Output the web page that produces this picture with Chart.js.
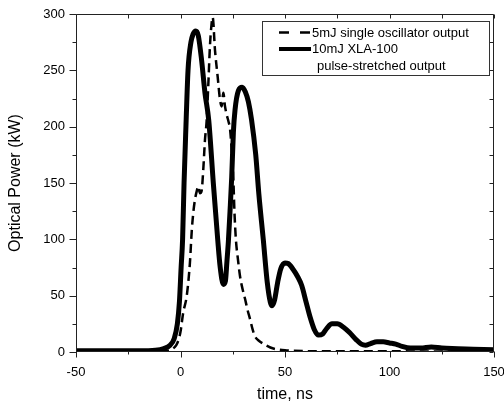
<!DOCTYPE html>
<html>
<head>
<meta charset="utf-8">
<script src="https://cdn.jsdelivr.net/npm/chart.js@4.4.0/dist/chart.umd.min.js"></script>
<style>
    html, body { margin: 0; padding: 0; background: #fff; }
    #grafico { display: block; }
</style>
</head>
<body>
<canvas id="grafico" width="504" height="405"></canvas>
<script>
// 5mJ single oscillator output (dashed)
const oscTime = [-50, -40, -30, -20, -10, -5, -3, -1.5, 0, 1.3, 3, 4.5, 5.4, 6.2, 6.9, 7.8, 8.5, 9.3, 10.1, 10.9, 11.7, 12.5, 13.3, 14.1, 14.8, 15.4, 16.5, 17.8, 18.9, 19.7, 20.5, 21.3, 22.2, 22.9, 23.7, 24.5, 25.3, 25.8, 26.5, 27.5, 28.5, 29.8, 30.9, 32, 33.3, 34.5, 35.6, 37.5, 40.4, 43, 45.2, 50, 60, 80, 100, 120, 150];
const oscPower = [0.5, 0.5, 0.5, 0.5, 0.8, 1.5, 4, 8, 18, 35, 50, 79, 108, 125, 135, 143, 147, 141, 143, 162, 188, 205, 237, 272, 290, 297, 268, 244, 224, 218, 230, 218, 210, 205, 198, 179, 153, 125, 100, 82, 67, 55, 47, 38, 29, 20, 14, 10, 6.5, 4, 2.7, 1.5, 0.8, 0.6, 0.6, 0.5, 0.5];

// 10mJ XLA-100 pulse-stretched output (solid)
const xlaTime = [-50, -40, -30, -20, -12, -8, -5, -3, -1.5, -0.5, 0.3, 1, 1.7, 2.6, 3.6, 5, 6, 7.3, 8.5, 10.1, 11.7, 13.5, 15.7, 17.8, 19, 20.5, 21.5, 22.2, 22.9, 23.7, 24.5, 25.3, 26.1, 27.7, 29.5, 31, 32.5, 34, 36, 37.5, 39.6, 41.5, 43, 43.8, 45, 46.5, 48, 50, 51.5, 54, 56, 58, 60, 62, 64, 66, 68, 70, 72.5, 75, 78, 81, 84, 86.5, 88.5, 91, 94, 97, 100, 103, 106, 110, 115, 120, 125, 130, 140, 150];
const xlaPower = [1, 1, 1, 1, 1.5, 3, 6, 12, 25, 45, 75, 100, 150, 200, 250, 275, 282, 285, 281, 259, 230, 206, 150, 100, 75, 60, 63, 80, 98, 125, 155, 195, 215, 232, 235, 231, 222, 206, 175, 140, 100, 62, 44, 41, 46, 62, 74, 79, 78.5, 73, 67, 59, 45, 31, 20, 15, 16, 21, 25, 25, 22, 17, 11, 7, 6, 7.5, 9, 9, 8, 7, 5, 3.5, 3.5, 4.5, 3.5, 3, 2.5, 2];

const xTicks = [-50, 0, 50, 100, 150];
const yTicks = [0, 50, 100, 150, 200, 250, 300];
const legendLabels = ['5mJ single oscillator output', '10mJ XLA-100', 'pulse-stretched output'];

(function () {
    const fonte = 'Arial, "Liberation Sans", sans-serif';

    function pares(xs, ys) {
        return xs.map((x, i) => ({ x: x, y: ys[i] }));
    }

    function comMenores(ticks) {
        const lista = [];
        ticks.forEach((v, i) => {
            lista.push({ value: v, major: true });
            if (i < ticks.length - 1) lista.push({ value: (v + ticks[i + 1]) / 2, major: false });
        });
        return lista;
    }

    // moldura e marcas de escala no estilo Origin
    const moldura = {
        id: 'moldura',
        afterDraw(chart) {
            const { ctx, chartArea: a, scales } = chart;
            const L = Math.round(a.left) + 0.5, R = Math.round(a.right) - 0.5;
            const T = Math.round(a.top) + 0.5, B = Math.round(a.bottom) - 0.5;
            ctx.save();
            ctx.strokeStyle = '#222';
            ctx.lineWidth = 1;
            ctx.beginPath();
            ctx.rect(L, T, R - L, B - T);
            comMenores(xTicks).forEach((t) => {
                const px = Math.round(scales.x.getPixelForValue(t.value)) + 0.5;
                ctx.moveTo(px, B); ctx.lineTo(px, B + (t.major ? 6 : 3));
                ctx.moveTo(px, T); ctx.lineTo(px, T + 4);
            });
            comMenores(yTicks).forEach((t) => {
                const py = Math.round(scales.y.getPixelForValue(t.value)) + 0.5;
                ctx.moveTo(L, py); ctx.lineTo(L - (t.major ? 7 : 4), py);
                ctx.moveTo(R, py); ctx.lineTo(R - 4, py);
            });
            ctx.stroke();
            ctx.restore();
        }
    };

    const legenda = {
        id: 'legenda',
        afterDraw(chart) {
            const ctx = chart.ctx;
            ctx.save();
            ctx.strokeStyle = '#333';
            ctx.lineWidth = 1;
            ctx.strokeRect(262.5, 21.5, 227, 54);

            ctx.strokeStyle = '#000';
            ctx.lineWidth = 2.5;
            ctx.setLineDash([10, 11]);
            ctx.beginPath();
            ctx.moveTo(279, 32.5); ctx.lineTo(311, 32.5);
            ctx.stroke();

            ctx.setLineDash([]);
            ctx.lineWidth = 4;
            ctx.beginPath();
            ctx.moveTo(279, 49); ctx.lineTo(311, 49);
            ctx.stroke();

            ctx.fillStyle = '#000';
            ctx.font = '13px ' + fonte;
            ctx.textBaseline = 'middle';
            ctx.fillText(legendLabels[0], 312, 33);
            ctx.fillText(legendLabels[1], 312, 49.5);
            ctx.fillText(legendLabels[2], 317, 66);
            ctx.restore();
        }
    };

    function iniciarGrafico() {
        const canvas = document.getElementById('grafico');
        if (!canvas || typeof Chart !== 'function') return;

        new Chart(canvas, {
            type: 'line',
            data: {
                datasets: [{
                    label: legendLabels[0],
                    data: pares(oscTime, oscPower),
                    borderColor: '#000',
                    borderWidth: 2.5,
                    borderDash: [9, 5],
                    pointRadius: 0,
                    cubicInterpolationMode: 'monotone',
                }, {
                    label: legendLabels[1] + ' ' + legendLabels[2],
                    data: pares(xlaTime, xlaPower),
                    borderColor: '#000',
                    borderWidth: 5,
                    pointRadius: 0,
                    cubicInterpolationMode: 'monotone',
                }],
            },
            options: {
                responsive: false,
                animation: false,
                devicePixelRatio: 1,
                layout: { padding: { top: 14, right: 10, left: 0, bottom: 0 } },
                plugins: { legend: { display: false }, tooltip: { enabled: false } },
                scales: {
                    x: {
                        type: 'linear',
                        min: -50,
                        max: 150,
                        afterBuildTicks: (s) => { s.ticks = xTicks.map((v) => ({ value: v })); },
                        afterFit: (s) => { s.height = 53; s.paddingLeft = 0; s.paddingRight = 0; },
                        grid: { display: false, drawTicks: false },
                        border: { display: false },
                        ticks: { padding: 13, color: '#000', font: { family: fonte, size: 13 }, maxRotation: 0 },
                        title: { display: true, text: 'time, ns', color: '#000', font: { family: fonte, size: 16 }, padding: { top: 0, bottom: 1 } },
                    },
                    y: {
                        min: 0,
                        max: 300,
                        afterBuildTicks: (s) => { s.ticks = yTicks.map((v) => ({ value: v })); },
                        afterFit: (s) => { s.width = 76; s.paddingTop = 0; s.paddingBottom = 0; },
                        grid: { display: false, drawTicks: false },
                        border: { display: false },
                        ticks: { padding: 11, color: '#000', font: { family: fonte, size: 13 } },
                        title: { display: true, text: 'Optical Power (kW)', color: '#000', font: { family: fonte, size: 16 }, padding: { top: 6, bottom: 0 } },
                    },
                },
            },
            plugins: [moldura, legenda],
        });
    }

    document.addEventListener('DOMContentLoaded', iniciarGrafico);
})();
</script>
</body>
</html>
